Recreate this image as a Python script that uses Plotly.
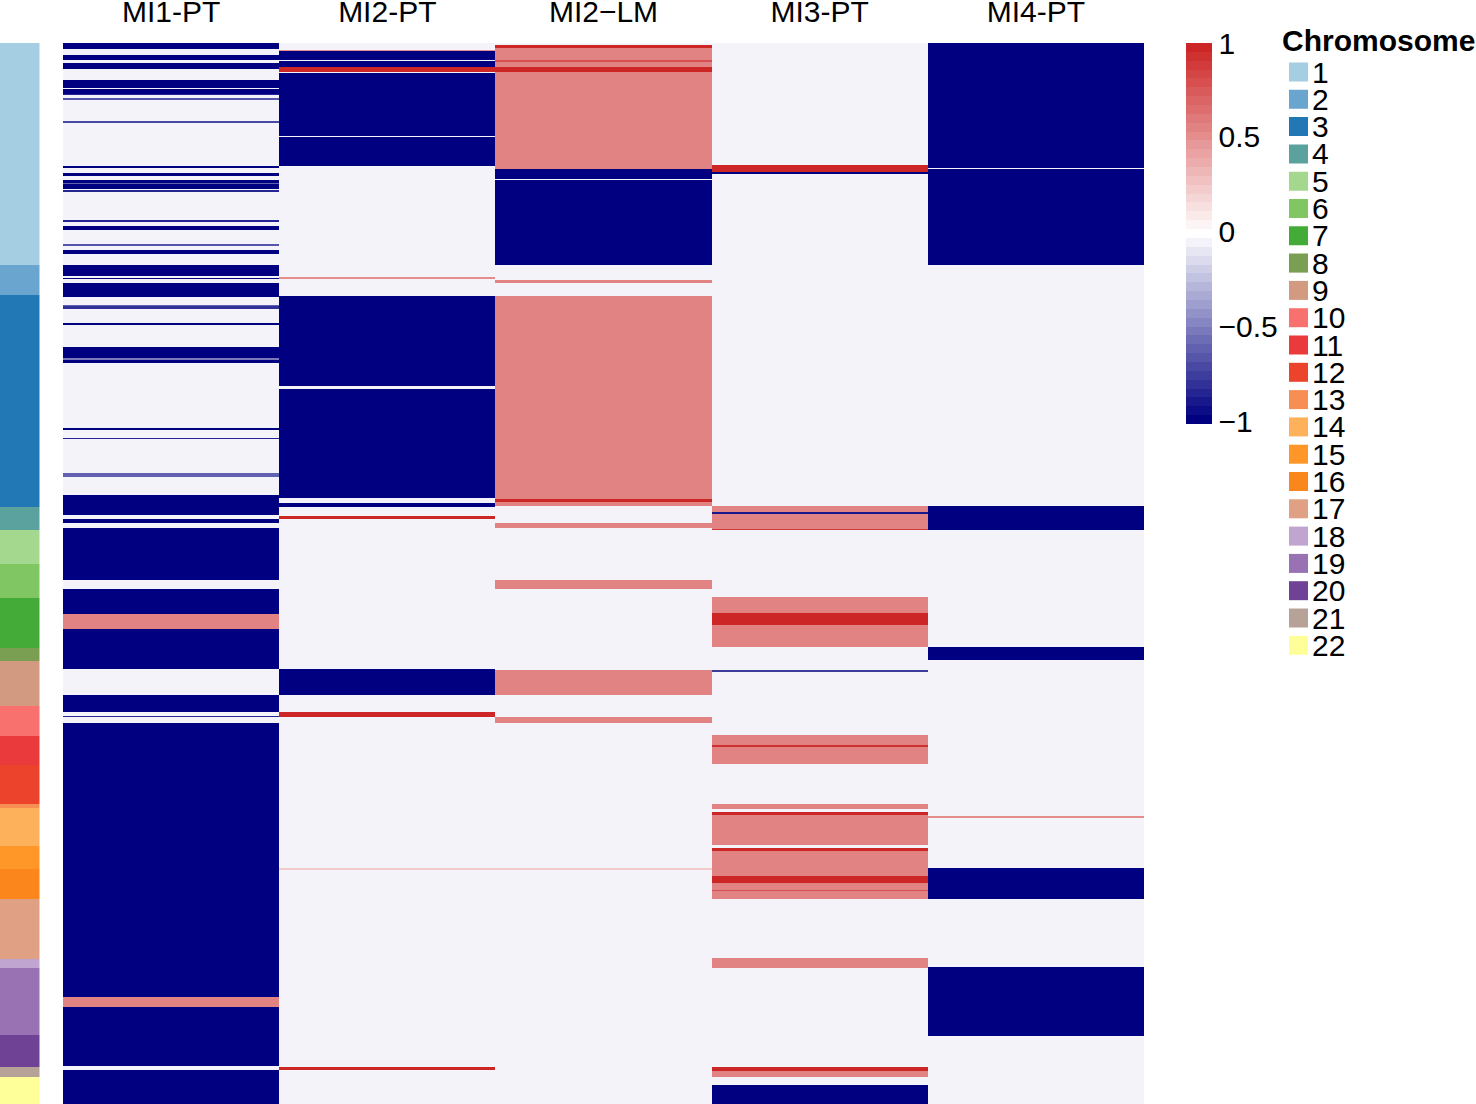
import numpy as np
import plotly.graph_objects as go

# Samples and chromosomes.
samples = ["MI1-PT", "MI2-PT", "MI2\u2212LM", "MI3-PT", "MI4-PT"]
chromosomes = [str(i) for i in range(1, 23)]
chrom_bins = [222, 30, 212, 23, 34, 34, 50, 13, 45, 30, 29,
              39, 4, 38, 23, 30, 60, 9, 67, 32, 10, 27]
chrom_colors = ["#A6CEE3", "#69A5CF", "#2178B4", "#5BA29F", "#A5D88F", "#80C763",
                "#44AB39", "#7B9F52", "#D29A80", "#F8716F", "#EB3A3B", "#EC432D",
                "#F78F54", "#FDB15B", "#FE9727", "#FA861C", "#E0A083", "#BFA5D0",
                "#9872B3", "#6F4296", "#B6A296", "#FFFF99"]
n_bins = 1061
neutral = -0.05

# Altered regions per sample: (first bin, end bin, value).
mi1_pt = [(0, 6, -1), (12, 17, -1), (20, 26, -1), (37, 45, -1), (46, 51, -1),
          (51, 52, -0.85), (55, 57, -0.65), (78, 80, -0.7), (123, 125, -1),
          (130, 133, -1), (137, 140, -1), (140, 141, -0.6), (141, 146, -1),
          (147, 149, -0.85), (177, 179, -0.85), (183, 187, -1), (201, 203, -0.65),
          (207, 211, -1), (222, 233, -1), (235, 236, -1), (240, 254, -1),
          (262, 263, -0.6), (263, 266, -0.8), (280, 282, -1), (304, 315, -1),
          (315, 317, -0.5), (317, 320, -1), (385, 387, -1), (395, 396, -0.85),
          (430, 434, -0.6), (452, 472, -1), (476, 480, -1), (485, 537, -1),
          (546, 571, -1), (571, 586, 0.58), (586, 626, -1), (652, 669, -1),
          (673, 674, -0.85), (680, 954, -1), (954, 964, 0.58), (964, 1023, -1),
          (1027, 1061, -1)]
mi2_pt = [(7, 8, 0.5), (8, 17, -1), (18, 24, -1), (24, 29, 1), (30, 93, -1),
          (94, 123, -1), (234, 236, 0.5), (253, 343, -1), (346, 455, -1),
          (460, 464, -1), (473, 476, 1), (626, 652, -1), (669, 674, 1),
          (825, 827, 0.25), (1024, 1027, 1)]
mi2_lm = [(2, 5, 1), (5, 17, 0.58), (17, 19, 0.8), (19, 24, 0.58), (24, 29, 1),
          (29, 126, 0.58), (126, 136, -1), (137, 222, -1), (237, 240, 0.58),
          (253, 456, 0.58), (456, 459, 1), (459, 463, 0.58), (480, 485, 0.58),
          (537, 546, 0.58), (627, 652, 0.58), (674, 680, 0.58), (825, 827, 0.25)]
mi3_pt = [(122, 129, 1), (129, 131, -1), (463, 469, 0.58), (469, 471, -0.9),
          (471, 486, 0.58), (486, 487, 0.9), (554, 570, 0.58), (570, 582, 1),
          (582, 604, 0.58), (627, 629, -0.75), (692, 702, 0.58), (702, 704, 0.95),
          (704, 721, 0.58), (761, 766, 0.58), (769, 772, 1), (772, 802, 0.58),
          (805, 808, 1), (808, 833, 0.58), (833, 840, 1), (840, 847, 0.58),
          (847, 848, 0.8), (848, 856, 0.58), (915, 925, 0.58), (1024, 1028, 1),
          (1028, 1034, 0.58), (1042, 1061, -1)]
mi4_pt = [(0, 125, -1), (126, 222, -1), (463, 487, -1), (604, 617, -1),
          (773, 775, 0.5), (825, 856, -1), (924, 993, -1)]
sample_regions = [mi1_pt, mi2_pt, mi2_lm, mi3_pt, mi4_pt]

# Fill the matrix, one column per sample.
z = np.full((n_bins, len(samples)), neutral)
for col, regions in enumerate(sample_regions):
    for start, end, value in regions:
        z[start:end, col] = value

# Stepped navy-white-red colour ramp, it gives the banded colour bar.
n_steps = 43
colorscale = []
for i in range(n_steps):
    v = -1 + 2 * i / (n_steps - 1)
    if v < 0:
        rgb = [255 + (c - 255) * -v for c in (0, 0, 128)]
    else:
        rgb = [255 + (c - 255) * v for c in (205, 38, 38)]
    color = "rgb({:.0f},{:.0f},{:.0f})".format(*rgb)
    colorscale.append([i / n_steps, color])
    colorscale.append([(i + 1) / n_steps, color])

W, H = 1476, 1104
font_name = "Liberation Sans"

fig = go.Figure()

# Chromosome strip on the left.
for name, bins, color in zip(chromosomes, chrom_bins, chrom_colors):
    fig.add_trace(go.Bar(x=["strip"], y=[bins], marker_color=color,
                         marker_line_width=0, xaxis="x2", yaxis="y2",
                         showlegend=False))

# Main heatmap.
fig.add_trace(go.Heatmap(
    z=z, x=samples, y=list(range(n_bins)), zmin=-1, zmax=1,
    colorscale=colorscale,
    colorbar=dict(
        x=1186 / W, xanchor="left", y=1 - 43 / H, yanchor="top",
        xpad=0, ypad=0, thickness=26, thicknessmode="pixels",
        len=381, lenmode="pixels", outlinewidth=0, ticks="",
        tickvals=[-0.985, -0.49, 0.01, 0.51, 1],
        ticktext=["\u22121", "\u22120.5", "0", "0.5", "1"],
        tickfont=dict(family=font_name, size=30, color="black"),
    ),
))

# Chromosome legend as its own little axis.
fig.add_trace(go.Scatter(
    x=[0] * len(chromosomes), y=chromosomes, mode="markers",
    marker=dict(symbol="square", size=19, color=chrom_colors, line_width=0),
    xaxis="x3", yaxis="y3", showlegend=False,
))

fig.add_annotation(text="<b>Chromosome</b>", xref="paper", yref="paper",
                   x=1280 / W, y=1 - 40 / H, xanchor="left", yanchor="middle",
                   showarrow=False,
                   font=dict(family=font_name, size=30, color="black"))

fig.update_layout(
    width=W, height=H,
    margin=dict(l=0, r=0, t=0, b=0, autoexpand=False),
    paper_bgcolor="white", plot_bgcolor="white",
    barmode="stack", bargap=0, showlegend=False,
    font=dict(family=font_name, size=30, color="black"),
    xaxis=dict(domain=[63 / W, 1144 / W], side="top", anchor="y",
               showgrid=False, zeroline=False, showline=False,
               ticks="outside", ticklen=8, tickcolor="rgba(0,0,0,0)",
               tickfont=dict(family=font_name, size=30, color="black")),
    yaxis=dict(domain=[0, 1 - 43 / H], range=[n_bins - 0.5, -0.5],
               showticklabels=False, showgrid=False, zeroline=False, ticks=""),
    xaxis2=dict(domain=[0, 39.5 / W], anchor="y2", showticklabels=False,
                showgrid=False, zeroline=False, ticks=""),
    yaxis2=dict(domain=[0, 1 - 43 / H], anchor="x2", range=[n_bins, 0],
                showticklabels=False, showgrid=False, zeroline=False, ticks=""),
    xaxis3=dict(domain=[1289 / W, 1308 / W], anchor="y3", range=[-1, 1],
                showticklabels=False, showgrid=False, zeroline=False, ticks=""),
    yaxis3=dict(domain=[1 - 658.95 / H, 1 - 58.35 / H], anchor="x3", side="right",
                type="category", range=[21.5, -0.5], dtick=1,
                showgrid=False, zeroline=False, ticks="", ticklabelstandoff=3,
                tickfont=dict(family=font_name, size=30, color="black")),
)

fig.write_html("out.html", config={"displayModeBar": False},
               post_script="document.body.style.margin='0';")
